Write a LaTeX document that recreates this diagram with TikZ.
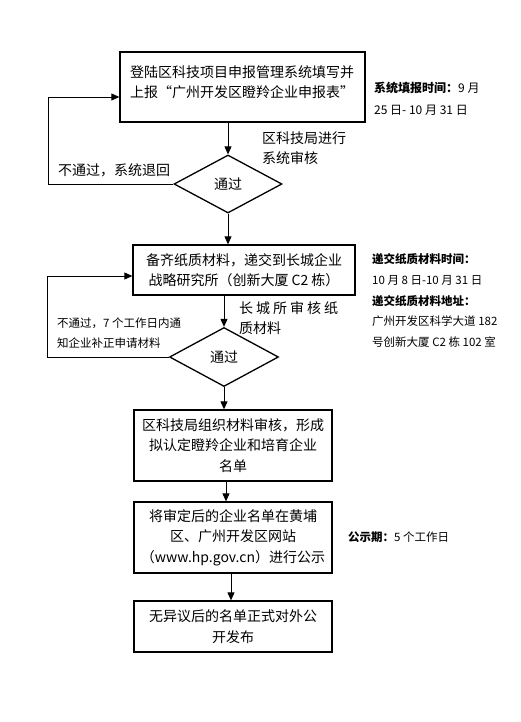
\documentclass[tikz,border=0pt]{standalone}
\usepackage{fontspec}
\setmainfont{Noto Sans CJK SC}
\usetikzlibrary{shapes.geometric,arrows.meta}
\begin{document}
\begin{tikzpicture}[x=1pt,y=-1pt,
  box/.style={draw, line width=1.3pt, inner sep=0pt, align=center, font=\fontsize{14}{20.5}\selectfont},
  dia/.style={draw, diamond, line width=1.3pt, inner sep=0pt, font=\fontsize{14}{20}\selectfont},
  arr/.style={line width=0.9pt, -{Triangle[length=8pt,width=7pt]}},
  lbl/.style={inner sep=0pt, align=left, anchor=west, font=\fontsize{14}{20}\selectfont},
  note/.style={inner sep=0pt, align=left, anchor=west, font=\fontsize{11.5}{20.7}\selectfont}
]
\useasboundingbox[fill=white] (0,0) rectangle (520,722);

% boxes
\node[box, minimum width=245pt, minimum height=70pt] (b1) at (242.5,87) {};
\node[lbl] (t1) at (130,82) {登陆区科技项目申报管理系统填写并\\上报“广州开发区瞪羚企业申报表”};
\node[dia, minimum width=108pt, minimum height=58pt] (d1) at (228,184) {通过};
\node[box, minimum width=222pt, minimum height=50pt] (b2) at (244,270) {备齐纸质材料，递交到长城企业\\战略研究所（创新大厦 C2 栋）};
\node[dia, minimum width=109pt, minimum height=59pt] (d2) at (224,357) {通过};
\node[box, minimum width=198pt, minimum height=71pt] (b3) at (233,445.5) {区科技局组织材料审核，形成\\拟认定瞪羚企业和培育企业\\名单};
\node[box, minimum width=198pt, minimum height=71pt] (b4) at (233,537.5) {将审定后的企业名单在黄埔\\区、广州开发区网站\\（www.hp.gov.cn）进行公示};
\node[box, minimum width=198pt, minimum height=51pt] (b5) at (233,626.5) {无异议后的名单正式对外公\\开发布};

% main arrows
\draw[arr] (d1.north |- b1.south) -- (d1.north);
\draw[arr] (d1.south) -- (d1.south |- b2.north);
\draw[arr] (d2.north |- b2.south) -- (d2.north);
\draw[arr] (d2.south) -- (d2.south |- b3.north);
\draw[arr] ([xshift=-7pt]b3.south) -- ([xshift=-7pt]b3.south |- b4.north);
\draw[arr] ([xshift=-2pt]b4.south) -- ([xshift=-2pt]b4.south |- b5.north);

% loops
\coordinate (c1) at (48,184);
\coordinate (c2) at (47,357);
\draw[arr] (d1.west) -- (c1) |- ([yshift=-10pt]b1.west);
\draw[arr] (d2.west) -- (c2) |- ([yshift=-6pt]b2.west);

% labels
\node[lbl] (l1) at (262,148) {区科技局进行\\系统审核};
\node[lbl] (l2) at (58,170) {不通过，系统退回};
\node[lbl] (l3) at (239,318) {\makebox[99pt][s]{长\hfill 城\hfill 所\hfill 审\hfill 核\hfill 纸}\\质材料};
\node[note] (l4) at (57,333) {不通过，7 个工作日内通\\知企业补正申请材料};

% notes
\node[note, font=\fontsize{12}{22}\selectfont] (n1) at (374,99) {\textbf{系统填报时间：}9 月\\25 日- 10 月 31 日};
\node[note] (n2) at (372,300.5) {\textbf{递交纸质材料时间：}\\10 月 8 日-10 月 31 日\\\textbf{递交纸质材料地址：}\\广州开发区科学大道 182\\号创新大厦 C2 栋 102 室};
\node[note] (n3) at (348,537) {\textbf{公示期：}5 个工作日};
\end{tikzpicture}
\end{document}
